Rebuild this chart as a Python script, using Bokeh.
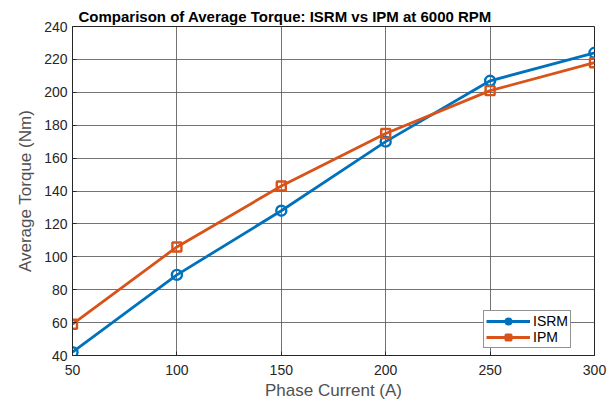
from bokeh.plotting import figure
from bokeh.embed import file_html
from bokeh.resources import INLINE
from bokeh.models import Legend, LegendItem, FixedTicker, Range1d

current = [50, 100, 150, 200, 250, 300]
isrm = [42, 89, 128, 170, 207, 224]
ipm = [59, 106, 143, 175, 201, 218]
x_ticks = [50, 100, 150, 200, 250, 300]
y_ticks = [40, 60, 80, 100, 120, 140, 160, 180, 200, 220, 240]

BLUE = "#0072BD"
ORANGE = "#D95319"
FONT = "Liberation Sans"

p = figure(width=610, height=402, output_backend="svg", toolbar_location=None,
           x_range=Range1d(50, 300), y_range=Range1d(40, 240),
           min_border_left=72, min_border_right=16, min_border_top=26, min_border_bottom=41)

p.title.text = "Comparison of Average Torque: ISRM vs IPM at 6000 RPM"
p.title.align = "left"
p.title.text_font = FONT
p.title.text_font_size = "15px"
p.title.text_font_style = "bold"
p.title.text_color = "#000000"
p.title.offset = 6
p.title.standoff = 3

p.background_fill_color = "white"
p.border_fill_color = "white"
p.outline_line_color = "#262626"
p.outline_line_width = 1

for ax in (p.xaxis, p.yaxis):
    ax.major_label_text_font = FONT
    ax.major_label_text_font_size = "14px"
    ax.major_label_text_color = "#262626"
    ax.axis_label_text_font = FONT
    ax.axis_label_text_font_size = "17px"
    ax.axis_label_text_font_style = "normal"
    ax.axis_label_text_color = "#505050"
    ax.axis_line_color = "#262626"
    ax.major_tick_line_color = "#262626"
    ax.major_tick_in = 4
    ax.major_tick_out = 0
    ax.minor_tick_line_color = None

p.xaxis.ticker = FixedTicker(ticks=x_ticks)
p.yaxis.ticker = FixedTicker(ticks=y_ticks)
p.xaxis.axis_label = "Phase Current (A)"
p.yaxis.axis_label = "Average Torque (Nm)"
p.xaxis.major_label_standoff = 9
p.yaxis.major_label_standoff = 5
p.xaxis.axis_label_standoff = 3
p.yaxis.axis_label_standoff = 6

p.xgrid.ticker = FixedTicker(ticks=x_ticks)
p.ygrid.ticker = FixedTicker(ticks=y_ticks)
p.grid.grid_line_color = "#505050"
p.grid.grid_line_alpha = 0.8
p.grid.grid_line_width = 1

l1 = p.line(current, isrm, line_color=BLUE, line_width=2.8)
m1 = p.scatter(current, isrm, marker="circle", size=10, line_color=BLUE, line_width=2.4, fill_color=None)
l2 = p.line(current, ipm, line_color=ORANGE, line_width=2.8)
m2 = p.scatter(current, ipm, marker="square", size=9, line_color=ORANGE, line_width=2.4, fill_color=None)

legend = Legend(items=[LegendItem(label="ISRM", renderers=[l1, m1]),
                       LegendItem(label="IPM", renderers=[l2, m2])],
                location=(411, 7))
legend.label_text_font = FONT
legend.label_text_font_size = "14px"
legend.label_text_color = "#000000"
legend.border_line_color = "#262626"
legend.border_line_width = 1
legend.background_fill_alpha = 1
legend.glyph_width = 44
legend.glyph_height = 14
legend.spacing = 0
legend.padding = 2
legend.margin = 0
legend.label_standoff = 3
legend.label_height = 14
p.add_layout(legend)

open("out.html", "w").write(file_html(p, INLINE))
